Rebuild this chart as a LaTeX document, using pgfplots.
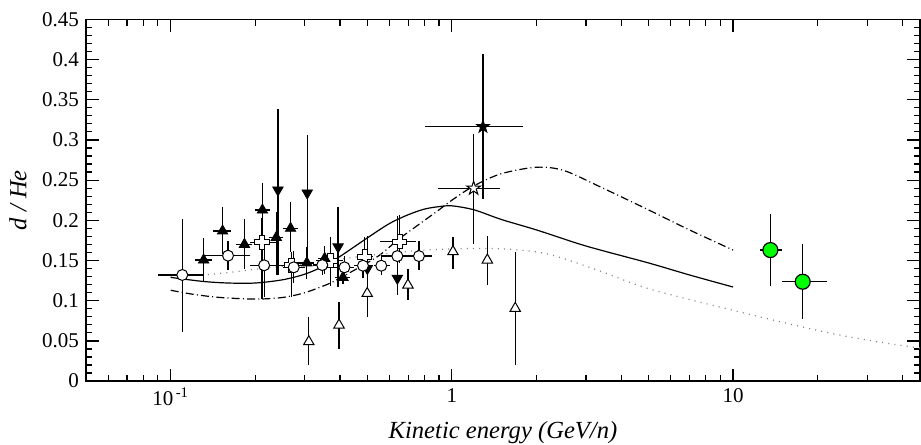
\documentclass[border=0pt]{standalone}
\usepackage{fontspec}
\setmainfont{Liberation Serif}
\usepackage{pgfplots}
\pgfplotsset{compat=1.18}
\definecolor{lime}{RGB}{0,255,0}

% open (outlined) cross marker
\pgfdeclareplotmark{ocross}{%
  \pgfpathmoveto{\pgfqpoint{-0.36\pgfplotmarksize}{\pgfplotmarksize}}%
  \pgfpathlineto{\pgfqpoint{0.36\pgfplotmarksize}{\pgfplotmarksize}}%
  \pgfpathlineto{\pgfqpoint{0.36\pgfplotmarksize}{0.36\pgfplotmarksize}}%
  \pgfpathlineto{\pgfqpoint{\pgfplotmarksize}{0.36\pgfplotmarksize}}%
  \pgfpathlineto{\pgfqpoint{\pgfplotmarksize}{-0.36\pgfplotmarksize}}%
  \pgfpathlineto{\pgfqpoint{0.36\pgfplotmarksize}{-0.36\pgfplotmarksize}}%
  \pgfpathlineto{\pgfqpoint{0.36\pgfplotmarksize}{-\pgfplotmarksize}}%
  \pgfpathlineto{\pgfqpoint{-0.36\pgfplotmarksize}{-\pgfplotmarksize}}%
  \pgfpathlineto{\pgfqpoint{-0.36\pgfplotmarksize}{-0.36\pgfplotmarksize}}%
  \pgfpathlineto{\pgfqpoint{-\pgfplotmarksize}{-0.36\pgfplotmarksize}}%
  \pgfpathlineto{\pgfqpoint{-\pgfplotmarksize}{0.36\pgfplotmarksize}}%
  \pgfpathlineto{\pgfqpoint{-0.36\pgfplotmarksize}{0.36\pgfplotmarksize}}%
  \pgfpathclose
  \pgfusepathqfillstroke
}
% five-pointed star marker
\pgfdeclareplotmark{pstar}{%
  \pgfpathmoveto{\pgfqpoint{0pt}{\pgfplotmarksize}}%
  \pgfpathlineto{\pgfqpoint{-0.2245\pgfplotmarksize}{0.309\pgfplotmarksize}}%
  \pgfpathlineto{\pgfqpoint{-0.951\pgfplotmarksize}{0.309\pgfplotmarksize}}%
  \pgfpathlineto{\pgfqpoint{-0.363\pgfplotmarksize}{-0.118\pgfplotmarksize}}%
  \pgfpathlineto{\pgfqpoint{-0.588\pgfplotmarksize}{-0.809\pgfplotmarksize}}%
  \pgfpathlineto{\pgfqpoint{0pt}{-0.382\pgfplotmarksize}}%
  \pgfpathlineto{\pgfqpoint{0.588\pgfplotmarksize}{-0.809\pgfplotmarksize}}%
  \pgfpathlineto{\pgfqpoint{0.363\pgfplotmarksize}{-0.118\pgfplotmarksize}}%
  \pgfpathlineto{\pgfqpoint{0.951\pgfplotmarksize}{0.309\pgfplotmarksize}}%
  \pgfpathlineto{\pgfqpoint{0.2245\pgfplotmarksize}{0.309\pgfplotmarksize}}%
  \pgfpathclose
  \pgfusepathqfillstroke
}

\pgfplotsset{
  eb/.style={error bars/.cd, x dir=both, x explicit, y dir=both, y explicit,
    error bar style={line width=0.6pt, black}, error mark=none},
}

\begin{document}
\begin{tikzpicture}
\begin{axis}[
  scale only axis, width=417pt, height=180.9pt,
  xmode=log, xmin=0.05, xmax=46.2, ymin=0, ymax=0.45,
  xtick={0.1,1,10}, xticklabels={10\textsuperscript{\,-1},1,10},
  minor xtick={0.06,0.07,0.08,0.09,0.2,0.3,0.4,0.5,0.6,0.7,0.8,0.9,2,3,4,5,6,7,8,9,20,30,40},
  ytick={0,0.05,0.1,0.15,0.2,0.25,0.3,0.35,0.4,0.45},
  yticklabels={0,0.05,0.1,0.15,0.2,0.25,0.3,0.35,0.4,0.45},
  minor y tick num=4,
  tick align=inside, major tick length=6.3pt, minor tick length=3.2pt,
  tick style={black, line width=0.6pt},
  axis line style={line width=0.7pt},
  tick label style={font=\fontsize{10.5}{12}\selectfont\rmfamily},
  xlabel={\itshape Kinetic energy (GeV/n)},
  ylabel={\itshape d / He},
  label style={font=\fontsize{12.3}{14}\selectfont},
  xlabel style={at={(axis description cs:0.5,-0.1437)}, anchor=center},
  ylabel style={at={(axis description cs:-0.0815,0.5)}, anchor=center},
  clip=true,
]
% model curves
\addplot[black, line width=0.6pt, smooth] coordinates {
  (0.1,0.129) (0.13,0.124) (0.16,0.122) (0.2,0.122) (0.25,0.126) (0.3,0.133)
  (0.35,0.143) (0.4,0.155) (0.5,0.178) (0.6,0.196) (0.7,0.207) (0.8,0.214)
  (0.9,0.217) (1.0,0.218) (1.2,0.213) (1.5,0.201) (2,0.188) (3,0.168)
  (5,0.147) (7,0.132) (10,0.117)};
\addplot[black, line width=0.6pt, smooth, dash pattern=on 4pt off 1.6pt on 0.5pt off 1.6pt] coordinates {
  (0.1,0.113) (0.12,0.108) (0.15,0.104) (0.2,0.102) (0.25,0.104) (0.3,0.110)
  (0.37,0.122) (0.45,0.138) (0.55,0.156) (0.65,0.177) (0.8,0.200) (0.9,0.213)
  (1.0,0.225) (1.2,0.243) (1.5,0.258) (2.0,0.266) (2.5,0.262) (3.35,0.242)
  (5,0.213) (7,0.188) (10,0.163)};
\addplot[gray, line width=0.6pt, smooth, dash pattern=on 0.5pt off 2.6pt] coordinates {
  (0.1,0.130) (0.14,0.133) (0.2,0.139) (0.3,0.146) (0.5,0.156) (0.8,0.163)
  (1.2,0.165) (1.6,0.164) (2.2,0.158) (3.3,0.138) (5,0.115) (10,0.088)
  (20,0.063) (30,0.051) (46.2,0.041)};

% open up-triangles
\addplot[only marks, mark=triangle*, mark size=3pt, mark options={fill=white, draw=black, line width=0.5pt}, eb] coordinates {
  (0.31,0.049) += (0,0.031) -= (0,0.029)
  (0.397,0.0697) += (0,0.029) -= (0,0.030)
  (0.5,0.109) += (0,0.026) -= (0,0.029)
  (0.698,0.1195) += (0,0.0205) -= (0,0.0185)
  (1.009,0.161) += (0,0.0186) -= (0,0.021)
  (1.337,0.1506) += (0,0.0294) -= (0,0.0316)
  (1.68,0.0905) += (0,0.0695) -= (0,0.0705)};

% filled down-triangles
\addplot[only marks, mark=triangle*, mark size=3pt, mark options={fill=black, draw=black, rotate=180}, eb] coordinates {
  (0.2407,0.2377) += (0,0.101) -= (0,0.106)
  (0.306,0.234) += (0,0.072) -= (0,0.086)
  (0.394,0.167) += (0,0.05) -= (0,0.05)
  (0.5005,0.140) += (0,0.040) -= (0,0.03)
  (0.64,0.1278) += (0,0.077) -= (0,0.021)};

% open crosses
\addplot[only marks, mark=ocross, mark size=3.6pt, mark options={fill=white, draw=black, line width=0.5pt}, eb] coordinates {
  (0.2114,0.1726) += (0.026,0.03) -= (0.020,0.07)
  (0.269,0.144) += (0.031,0.016) -= (0.029,0.039)
  (0.370,0.1497) += (0.04,0.030) -= (0.04,0.031)
  (0.49,0.1547) += (0.035,0.025) -= (0.032,0.017)
  (0.652,0.1733) += (0.094,0.033) -= (0.095,0.027)};

% filled up-triangles
\addplot[only marks, mark=triangle*, mark size=3pt, mark options={fill=black, draw=black}, eb] coordinates {
  (0.131,0.1506) += (0.009,0.028) -= (0.009,0.027)
  (0.153,0.1867) += (0.011,0.030) -= (0.011,0.028)
  (0.183,0.170) += (0.012,0.032) -= (0.012,0.030)
  (0.212,0.2128) += (0.013,0.033) -= (0.013,0.033)
  (0.2375,0.1787) += (0.014,0.032) -= (0.014,0.047)
  (0.267,0.190) += (0.016,0.033) -= (0.016,0.03)
  (0.305,0.147) += (0.018,0.02) -= (0.018,0.02)
  (0.353,0.1526) += (0.02,0.016) -= (0.02,0.019)
  (0.410,0.129) += (0.025,0.008) -= (0.025,0.008)};

% open circles
\addplot[only marks, mark=*, mark size=2.75pt, mark options={fill=white, draw=black, line width=0.5pt}, eb] coordinates {
  (0.110,0.132) += (0.020,0.070) -= (0.020,0.071)
  (0.160,0.156) += (0.031,0.018) -= (0.028,0.018)
  (0.215,0.144) += (0.026,0.019) -= (0.023,0.039)
  (0.274,0.1415) += (0.026,0.02) -= (0.023,0.02)
  (0.346,0.1443) += (0.03,0.011) -= (0.026,0.012)
  (0.415,0.1415) += (0.035,0.014) -= (0.035,0.014)
  (0.483,0.1435) += (0.037,0.014) -= (0.033,0.015)
  (0.561,0.1435) += (0.04,0.012) -= (0.031,0.012)
  (0.64,0.1555) += (0.076,0.02) -= (0.079,0.018)
  (0.764,0.1555) += (0.083,0.019) -= (0.076,0.017)};

% stars
\addplot[only marks, mark=pstar, mark size=3.4pt, mark options={fill=black, draw=black}, eb] coordinates {
  (1.29,0.3164) += (0.50,0.090) -= (0.49,0.090)};
\addplot[only marks, mark=pstar, mark size=3.6pt, mark options={fill=white, draw=black, line width=0.5pt}, eb] coordinates {
  (1.195,0.2398) += (0.285,0.068) -= (0.30,0.069)};

% green points
\addplot[only marks, mark=*, mark size=3.75pt, mark options={fill=lime, draw=black, line width=0.6pt}, eb] coordinates {
  (13.57,0.163) += (1.40,0.045) -= (1.14,0.045)
  (17.68,0.1236) += (3.92,0.0474) -= (2.71,0.0468)};
\end{axis}
\pgfresetboundingbox
\path[use as bounding box] ([xshift=-43pt,yshift=-31.5pt]current axis.south west)
  rectangle ([xshift=0.5pt,yshift=9.65pt]current axis.north east);
\end{tikzpicture}
\end{document}
